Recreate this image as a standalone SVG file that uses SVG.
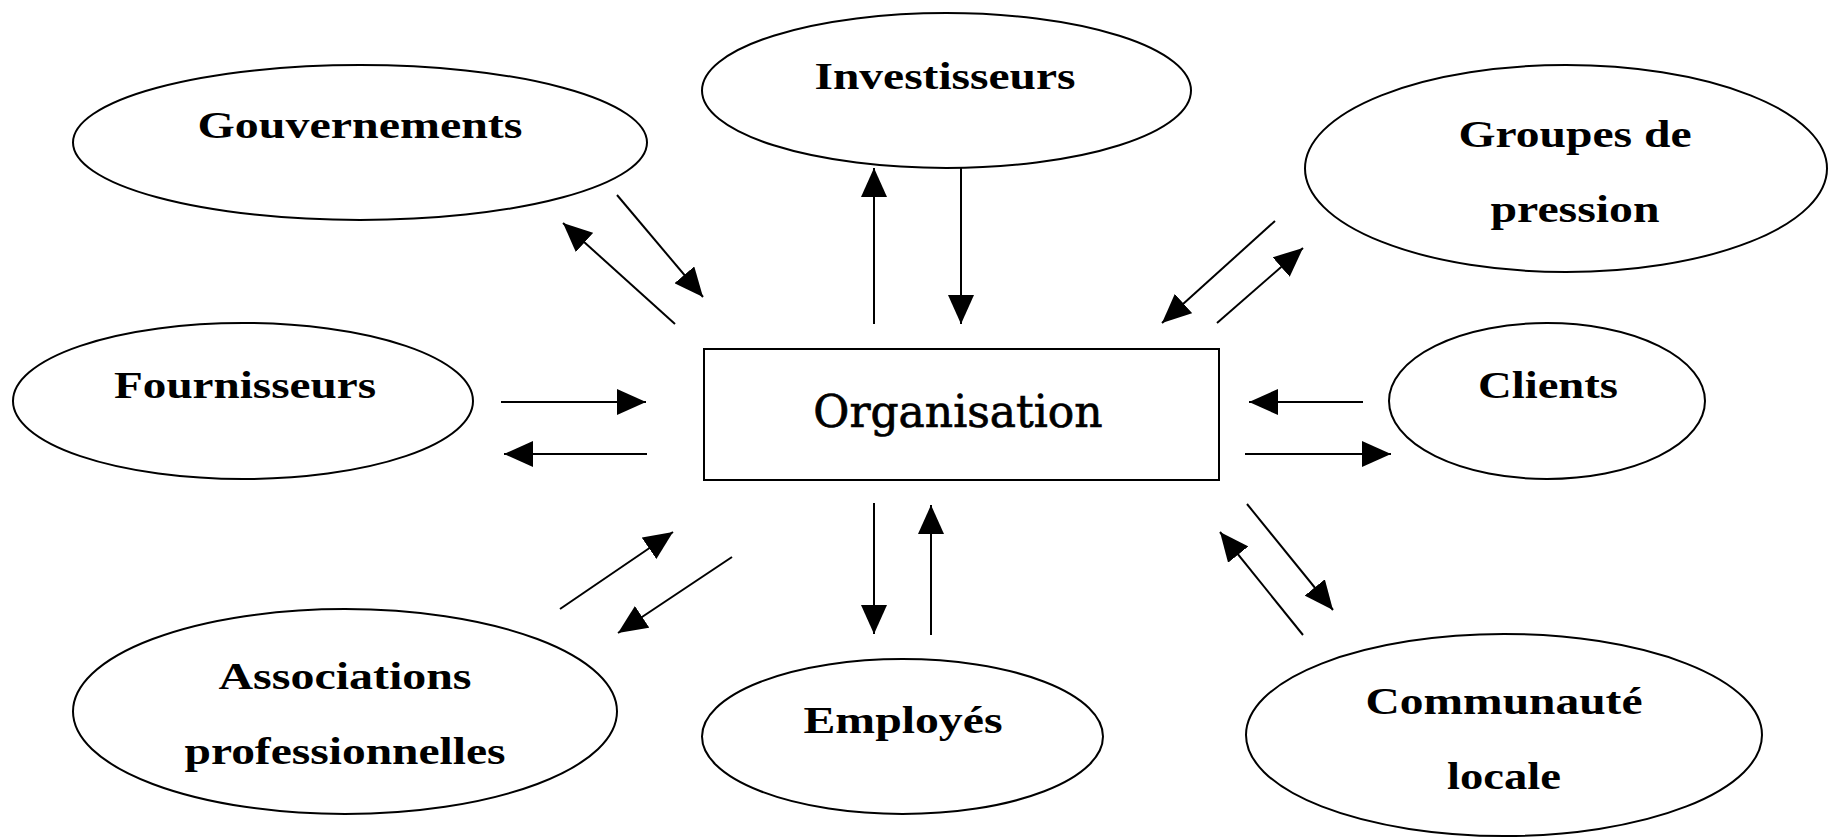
<svg xmlns="http://www.w3.org/2000/svg" width="1828" height="837" viewBox="0 0 1828 837">
<style>
.node ellipse, .node rect { fill: #ffffff; stroke: #000000; stroke-width: 2; }
.lbl { font-family: "Liberation Serif", "Times New Roman", serif; font-weight: bold; font-size: 38px; fill: #000000; text-anchor: middle; }
.org { font-family: "DejaVu Serif", "Liberation Serif", serif; font-size: 44px; fill: #000000; stroke: #000000; stroke-width: 0.7; text-anchor: middle; }
#connectors line { stroke: #000000; stroke-width: 2; marker-end: url(#arrow); }
</style>
<defs>
<marker id="arrow" viewBox="0 0 29 26" refX="29" refY="13" markerWidth="29" markerHeight="26" markerUnits="userSpaceOnUse" orient="auto">
<path d="M0,0 L29,13 L0,26 z" fill="#000000"/>
</marker>
</defs>
<rect x="0" y="0" width="1828" height="837" fill="#ffffff"/>

<g id="organisation" class="node">
<rect x="704" y="349" width="515" height="131"/>
<text class="org" x="958" y="427">Organisation</text>
</g>
<g id="gouvernements" class="node">
<ellipse cx="360" cy="142.5" rx="287" ry="77.5"/>
<text class="lbl" x="360" y="138" textLength="325" lengthAdjust="spacingAndGlyphs">Gouvernements</text>
</g>
<g id="investisseurs" class="node">
<ellipse cx="946.5" cy="90.5" rx="244.5" ry="77.5"/>
<text class="lbl" x="945" y="89" textLength="261" lengthAdjust="spacingAndGlyphs">Investisseurs</text>
</g>
<g id="groupes-de-pression" class="node">
<ellipse cx="1566" cy="168.5" rx="261" ry="103.5"/>
<text class="lbl" x="1575" y="147" textLength="233" lengthAdjust="spacingAndGlyphs">Groupes de</text>
<text class="lbl" x="1575" y="222" textLength="169" lengthAdjust="spacingAndGlyphs">pression</text>
</g>
<g id="fournisseurs" class="node">
<ellipse cx="243" cy="401" rx="230" ry="78"/>
<text class="lbl" x="245" y="398" textLength="262" lengthAdjust="spacingAndGlyphs">Fournisseurs</text>
</g>
<g id="clients" class="node">
<ellipse cx="1547" cy="401" rx="158" ry="78"/>
<text class="lbl" x="1548" y="398" textLength="140" lengthAdjust="spacingAndGlyphs">Clients</text>
</g>
<g id="associations-professionnelles" class="node">
<ellipse cx="345" cy="711.5" rx="272" ry="102.5"/>
<text class="lbl" x="345" y="689" textLength="253" lengthAdjust="spacingAndGlyphs">Associations</text>
<text class="lbl" x="345" y="764" textLength="321" lengthAdjust="spacingAndGlyphs">professionnelles</text>
</g>
<g id="employes" class="node">
<ellipse cx="902.5" cy="736.5" rx="200.5" ry="77.5"/>
<text class="lbl" x="903" y="733" textLength="199" lengthAdjust="spacingAndGlyphs">Employés</text>
</g>
<g id="communaute-locale" class="node">
<ellipse cx="1504" cy="735" rx="258" ry="101"/>
<text class="lbl" x="1504" y="714" textLength="277" lengthAdjust="spacingAndGlyphs">Communauté</text>
<text class="lbl" x="1504" y="789" textLength="114" lengthAdjust="spacingAndGlyphs">locale</text>
</g>

<g id="connectors">
<line x1="617" y1="195" x2="703" y2="297"/>
<line x1="675" y1="324" x2="563" y2="223"/>
<line x1="874" y1="324" x2="874" y2="168"/>
<line x1="961" y1="168" x2="961" y2="324"/>
<line x1="1275" y1="221" x2="1162" y2="323"/>
<line x1="1217" y1="323" x2="1303" y2="248"/>
<line x1="501" y1="402" x2="646" y2="402"/>
<line x1="647" y1="454" x2="504" y2="454"/>
<line x1="1363" y1="402" x2="1249" y2="402"/>
<line x1="1245" y1="454" x2="1391" y2="454"/>
<line x1="560" y1="609" x2="673" y2="532"/>
<line x1="732" y1="557" x2="618" y2="633"/>
<line x1="874" y1="503" x2="874" y2="634"/>
<line x1="931" y1="635" x2="931" y2="505"/>
<line x1="1247" y1="504" x2="1333" y2="610"/>
<line x1="1303" y1="635" x2="1220" y2="532"/>
</g>
</svg>
